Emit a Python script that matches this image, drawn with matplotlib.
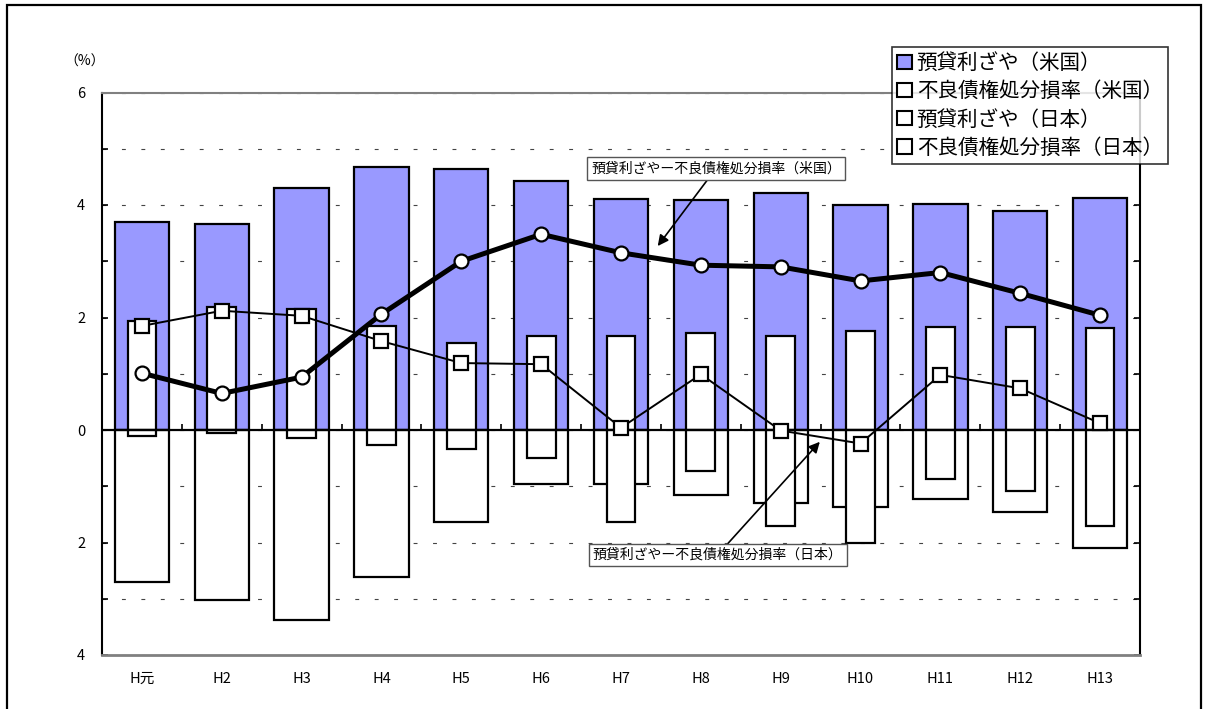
import matplotlib
matplotlib.use("Agg")
import matplotlib.pyplot as plt
import matplotlib.patches as mpatches
from matplotlib.ticker import MultipleLocator
import numpy as np

plt.rcParams['font.family'] = ['Noto Sans CJK JP', 'DejaVu Sans']

categories = ['H元', 'H2', 'H3', 'H4', 'H5', 'H6', 'H7', 'H8', 'H9', 'H10', 'H11', 'H12', 'H13']
us_spread = [3.70, 3.66, 4.30, 4.68, 4.64, 4.43, 4.11, 4.09, 4.21, 4.00, 4.02, 3.89, 4.12]
us_npl = [2.70, 3.02, 3.38, 2.61, 1.64, 0.96, 0.96, 1.16, 1.30, 1.37, 1.23, 1.46, 2.10]
jp_spread = [1.94, 2.18, 2.16, 1.85, 1.54, 1.68, 1.68, 1.73, 1.68, 1.76, 1.84, 1.83, 1.82]
jp_npl = [0.11, 0.05, 0.14, 0.27, 0.34, 0.50, 1.64, 0.73, 1.71, 2.01, 0.87, 1.08, 1.71]
us_net = [1.01, 0.65, 0.94, 2.06, 3.00, 3.48, 3.15, 2.93, 2.90, 2.65, 2.80, 2.43, 2.04]
jp_net = [1.85, 2.12, 2.03, 1.58, 1.19, 1.17, 0.04, 0.99, -0.01, -0.24, 0.98, 0.74, 0.12]

legend_labels = ['預貸利ざや（米国）', '不良債権処分損率（米国）', '預貸利ざや（日本）', '不良債権処分損率（日本）']
note_us = '預貸利ざやー不良債権処分損率（米国）'
note_jp = '預貸利ざやー不良債権処分損率（日本）'
yticks = [-4, -2, 0, 2, 4, 6]
ytick_labels = ['4', '2', '0', '2', '4', '6']

BLUE = '#9999FF'
W, H = 1205, 709
fig = plt.figure(figsize=(W / 100, H / 100), dpi=100)
ax = fig.add_axes([102 / W, 1 - 655 / H, 1038 / W, 562.5 / H])

x = np.arange(len(categories))
ax.bar(x, us_spread, width=0.68, color=BLUE, edgecolor='black', linewidth=1.6, zorder=1)
ax.bar(x, -np.array(us_npl), width=0.68, color='white', edgecolor='black', linewidth=1.6, zorder=1.1)
ax.bar(x, jp_spread, width=0.36, color='white', edgecolor='black', linewidth=1.6, zorder=1.2)
ax.bar(x, -np.array(jp_npl), width=0.36, color='white', edgecolor='black', linewidth=1.6, zorder=1.3)

ax.axhline(0, color='black', lw=1.6, zorder=2.4)

ax.plot(x, us_net, color='black', lw=3.6, marker='o', markersize=10,
        markerfacecolor='white', markeredgecolor='black', markeredgewidth=1.6, zorder=5)
ax.plot(x, jp_net, color='black', lw=1.4, marker='s', markersize=9.5,
        markerfacecolor='white', markeredgecolor='black', markeredgewidth=1.6, zorder=4)

ax.set_xlim(-0.5, len(categories) - 0.5)
ax.set_ylim(-4, 6)
ax.set_yticks(yticks)
ax.set_yticklabels(ytick_labels, fontsize=10.5)
ax.yaxis.set_minor_locator(MultipleLocator(1))
ax.tick_params(axis='y', which='both', direction='in', length=4, width=1.2,
               left=True, right=True, labelright=False, pad=12)
ax.set_xticks(x)
ax.set_xticklabels(categories, fontsize=10.5)
ax.tick_params(axis='x', which='both', length=0, pad=12)

ax.grid(axis='y', which='both', linestyle=(0, (3.5, 14)), color='#444444', lw=0.8)
ax.set_axisbelow(True)

for side in ['left', 'right']:
    ax.spines[side].set_color('black')
    ax.spines[side].set_linewidth(1.5)
ax.spines['top'].set_color('#808080')
ax.spines['top'].set_linewidth(1.5)
ax.spines['bottom'].set_color('#808080')
ax.spines['bottom'].set_linewidth(2)

# x axis at zero with ticks between categories
ymin, ymax = ax.get_ylim()
sec = ax.secondary_xaxis((0 - ymin) / (ymax - ymin))
sec.set_xticks(np.arange(-0.5, len(categories), 1.0))
sec.tick_params(axis='x', direction='in', length=4, width=1.2, labelbottom=False)
sec.spines['bottom'].set_visible(False)
sec.set_zorder(2.5)

# annotations
box = dict(boxstyle='square,pad=0.3', facecolor='white', edgecolor='#555555', lw=1)
ax.annotate(note_us, xy=(6.46, 3.27), xytext=(7.19, 4.65), fontsize=10,
            ha='center', va='center', bbox=box, zorder=6,
            arrowprops=dict(arrowstyle='-|>', color='black', lw=1.2, mutation_scale=16,
                            shrinkA=0, shrinkB=0))
ax.annotate(note_jp, xy=(8.49, -0.21), xytext=(7.21, -2.22), fontsize=10,
            ha='center', va='center', bbox=box, zorder=6,
            arrowprops=dict(arrowstyle='-|>', color='black', lw=1.2, mutation_scale=16,
                            shrinkA=0, shrinkB=0))

fig.text(85 / W, 1 - 62 / H, '（%）', fontsize=10, ha='center', va='center')

handles = [mpatches.Patch(facecolor=BLUE, edgecolor='black', lw=1.5)] + \
          [mpatches.Patch(facecolor='white', edgecolor='black', lw=1.5) for _ in range(3)]
leg = fig.legend(handles, legend_labels, loc='upper left',
                 bbox_to_anchor=(892 / W, 1 - 47 / H), bbox_transform=fig.transFigure,
                 fontsize=14.8, frameon=True, fancybox=False, edgecolor='black',
                 borderpad=0.25, labelspacing=0.3, handlelength=0.7, handleheight=0.7,
                 handletextpad=0.25, borderaxespad=0)
leg.get_frame().set_linewidth(1.2)
leg.set_zorder(10)

fig.add_artist(mpatches.Rectangle((7 / W, -0.02), (1201 - 7) / W, 1 - 5 / H + 0.02,
                                  transform=fig.transFigure, fill=False,
                                  edgecolor='black', lw=1.6))

fig.savefig('out.png', dpi=100)
